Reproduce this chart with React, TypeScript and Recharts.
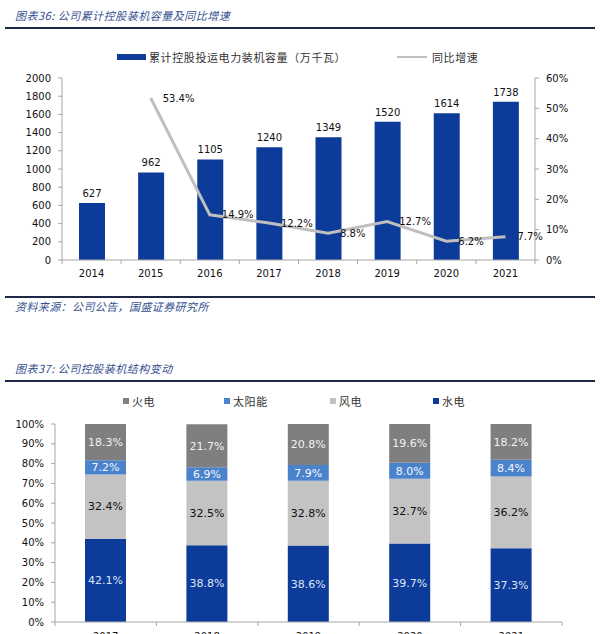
import React from 'react';
import {
  ComposedChart,
  BarChart,
  Bar,
  Line,
  XAxis,
  YAxis,
  LabelList,
} from 'recharts';

// chart 36: cumulative capacity + YoY growth
const years36 = ['2014', '2015', '2016', '2017', '2018', '2019', '2020', '2021'];
const capacity = [627, 962, 1105, 1240, 1349, 1520, 1614, 1738];
const growth: (number | null)[] = [null, 53.4, 14.9, 12.2, 8.8, 12.7, 6.2, 7.7];
const capTicks = [0, 200, 400, 600, 800, 1000, 1200, 1400, 1600, 1800, 2000];
const growthTicks = [0, 10, 20, 30, 40, 50, 60];

// chart 37: capacity structure (%)
const years37 = ['2017', '2018', '2019', '2020', '2021'];
const hydro = [42.1, 38.8, 38.6, 39.7, 37.3];
const wind = [32.4, 32.5, 32.8, 32.7, 36.2];
const solar = [7.2, 6.9, 7.9, 8.0, 8.4];
const thermal = [18.3, 21.7, 20.8, 19.6, 18.2];
const shareTicks = [0, 10, 20, 30, 40, 50, 60, 70, 80, 90, 100];

const BLUE = '#0D3B99';
const GRAY_LINE = '#BFBFBF';
const AXIS = '#A6A6A6';
const NUM_FONT = '"DejaVu Sans", sans-serif';
const CJK_FONT = '"Noto Sans CJK SC", sans-serif';
const TITLE_COLOR = '#34508F';

const data36 = years36.map((year, i) => ({ year, capacity: capacity[i], growth: growth[i] }));
const data37 = years37.map((year, i) => ({
  year,
  hydro: hydro[i],
  wind: wind[i],
  solar: solar[i],
  thermal: thermal[i],
}));

const pct = (v: any) => (v == null ? '' : `${Number(v).toFixed(1)}%`);

// category tick with Excel-style tick marks between categories
function makeYearTick(band: number, count: number, textDy: number) {
  return (props: any) => {
    const { x, y, payload, index } = props;
    return (
      <g>
        <line x1={x - band / 2} x2={x - band / 2} y1={y} y2={y + 4} stroke={AXIS} />
        {index === count - 1 && (
          <line x1={x + band / 2} x2={x + band / 2} y1={y} y2={y + 4} stroke={AXIS} />
        )}
        <text x={x} y={y + textDy} textAnchor="middle" fontSize={10} fontFamily={NUM_FONT} fill="#111">
          {payload.value}
        </text>
      </g>
    );
  };
}

const tickStyle = { fontSize: 10, fontFamily: NUM_FONT, fill: '#111' };

function Title({ top, text }: { top: number; text: string }) {
  return (
    <>
      <div
        style={{
          position: 'absolute', left: 15, top: top - 8, fontFamily: CJK_FONT, fontStyle: 'italic',
          fontSize: 11, lineHeight: '16px', color: TITLE_COLOR, letterSpacing: 0.5, whiteSpace: 'nowrap',
        }}
      >
        {text}
      </div>
      <div style={{ position: 'absolute', left: 5, width: 590, top: top + 12, height: 2, background: '#1E2846' }} />
    </>
  );
}

function LegendItem({ left, top, swatch, label }: { left: number; top: number; swatch: React.ReactNode; label: string }) {
  return (
    <div style={{ position: 'absolute', left, top, display: 'flex', alignItems: 'center', whiteSpace: 'nowrap' }}>
      {swatch}
      <span style={{ fontFamily: CJK_FONT, fontSize: 11, color: '#333', lineHeight: '14px', letterSpacing: 0.6 }}>{label}</span>
    </div>
  );
}

const square = (color: string) => (
  <span style={{ display: 'inline-block', width: 6, height: 6, background: color, marginRight: 3 }} />
);

export default function App() {
  const band36 = 473 / years36.length;
  const band37 = 507 / years37.length;
  return (
    <div style={{ position: 'absolute', left: 0, top: 0, width: 600, height: 634, overflow: 'hidden', background: '#fff' }}>
      <Title top={15} text="图表36: 公司累计控股装机容量及同比增速" />

      <LegendItem
        left={117}
        top={50}
        swatch={<span style={{ display: 'inline-block', width: 29, height: 6, background: BLUE, marginRight: 3 }} />}
        label="累计控股投运电力装机容量（万千瓦）"
      />
      <LegendItem
        left={397}
        top={50}
        swatch={<span style={{ display: 'inline-block', width: 30, height: 2, background: GRAY_LINE, marginRight: 5 }} />}
        label="同比增速"
      />

      <div style={{ position: 'absolute', left: 0, top: 40 }}>
        <ComposedChart width={600} height={250} data={data36} margin={{ top: 38, right: 15, bottom: 0, left: 0 }}>
          <XAxis
            dataKey="year"
            height={30}
            stroke={AXIS}
            tickLine={false}
            tickSize={0}
            tickMargin={0}
            tick={makeYearTick(band36, years36.length, 17)}
            interval={0}
          />
          <YAxis
            yAxisId="left"
            width={62}
            domain={[0, 2000]}
            ticks={capTicks}
            stroke={AXIS}
            tickSize={4}
            tickMargin={7}
            tick={tickStyle}
            interval={0}
          />
          <YAxis
            yAxisId="right"
            orientation="right"
            width={50}
            domain={[0, 60]}
            ticks={growthTicks}
            stroke={AXIS}
            tickSize={4}
            tickMargin={7}
            tick={tickStyle}
            tickFormatter={(v) => `${v}%`}
            interval={0}
          />
          <Bar yAxisId="left" dataKey="capacity" fill={BLUE} barSize={26} isAnimationActive={false}>
            <LabelList dataKey="capacity" position="top" offset={6} style={{ fontSize: 10, fontFamily: NUM_FONT, fill: '#111' }} />
          </Bar>
          <Line
            yAxisId="right"
            dataKey="growth"
            stroke={GRAY_LINE}
            strokeWidth={3}
            dot={false}
            activeDot={false}
            connectNulls={false}
            isAnimationActive={false}
          >
            <LabelList dataKey="growth" position="right" offset={12} formatter={pct} style={{ fontSize: 10, fontFamily: NUM_FONT, fill: '#111' }} />
          </Line>
        </ComposedChart>
      </div>

      <div style={{ position: 'absolute', left: 5, width: 590, top: 296, height: 2, background: '#1E2846' }} />
      <div
        style={{
          position: 'absolute', left: 15, top: 298, fontFamily: CJK_FONT, fontStyle: 'italic', fontSize: 11,
          lineHeight: '16px', color: TITLE_COLOR, letterSpacing: 0.4, whiteSpace: 'nowrap',
        }}
      >
        资料来源：公司公告，国盛证券研究所
      </div>

      <Title top={368} text="图表37: 公司控股装机结构变动" />

      <LegendItem left={123} top={394} swatch={square('#7F7F7F')} label="火电" />
      <LegendItem left={224} top={394} swatch={square('#4A82CC')} label="太阳能" />
      <LegendItem left={330} top={394} swatch={square('#C3C3C3')} label="风电" />
      <LegendItem left={433} top={394} swatch={square(BLUE)} label="水电" />

      <div style={{ position: 'absolute', left: 0, top: 385 }}>
        <BarChart width={600} height={270} data={data37} margin={{ top: 39, right: 38, bottom: 0, left: 0 }}>
          <XAxis
            dataKey="year"
            height={33}
            stroke={AXIS}
            tickLine={false}
            tickSize={0}
            tickMargin={0}
            tick={makeYearTick(band37, years37.length, 18)}
            interval={0}
          />
          <YAxis
            width={55}
            domain={[0, 100]}
            allowDataOverflow
            ticks={shareTicks}
            stroke={AXIS}
            tickSize={4}
            tickMargin={7}
            tick={tickStyle}
            tickFormatter={(v) => `${v}%`}
            interval={0}
          />
          <Bar dataKey="hydro" stackId="s" fill={BLUE} barSize={41} isAnimationActive={false}>
            <LabelList dataKey="hydro" position="center" formatter={pct} style={{ fontSize: 11, fontFamily: NUM_FONT, fill: '#DCE6F7' }} />
          </Bar>
          <Bar dataKey="wind" stackId="s" fill="#C3C3C3" barSize={41} isAnimationActive={false}>
            <LabelList dataKey="wind" position="center" formatter={pct} style={{ fontSize: 11, fontFamily: NUM_FONT, fill: '#111' }} />
          </Bar>
          <Bar dataKey="solar" stackId="s" fill="#4A82CC" barSize={41} isAnimationActive={false}>
            <LabelList dataKey="solar" position="center" formatter={pct} style={{ fontSize: 11, fontFamily: NUM_FONT, fill: '#F4F7FC' }} />
          </Bar>
          <Bar dataKey="thermal" stackId="s" fill="#7F7F7F" barSize={41} isAnimationActive={false}>
            <LabelList dataKey="thermal" position="center" formatter={pct} style={{ fontSize: 11, fontFamily: NUM_FONT, fill: '#F2F2F2' }} />
          </Bar>
        </BarChart>
      </div>
    </div>
  );
}
